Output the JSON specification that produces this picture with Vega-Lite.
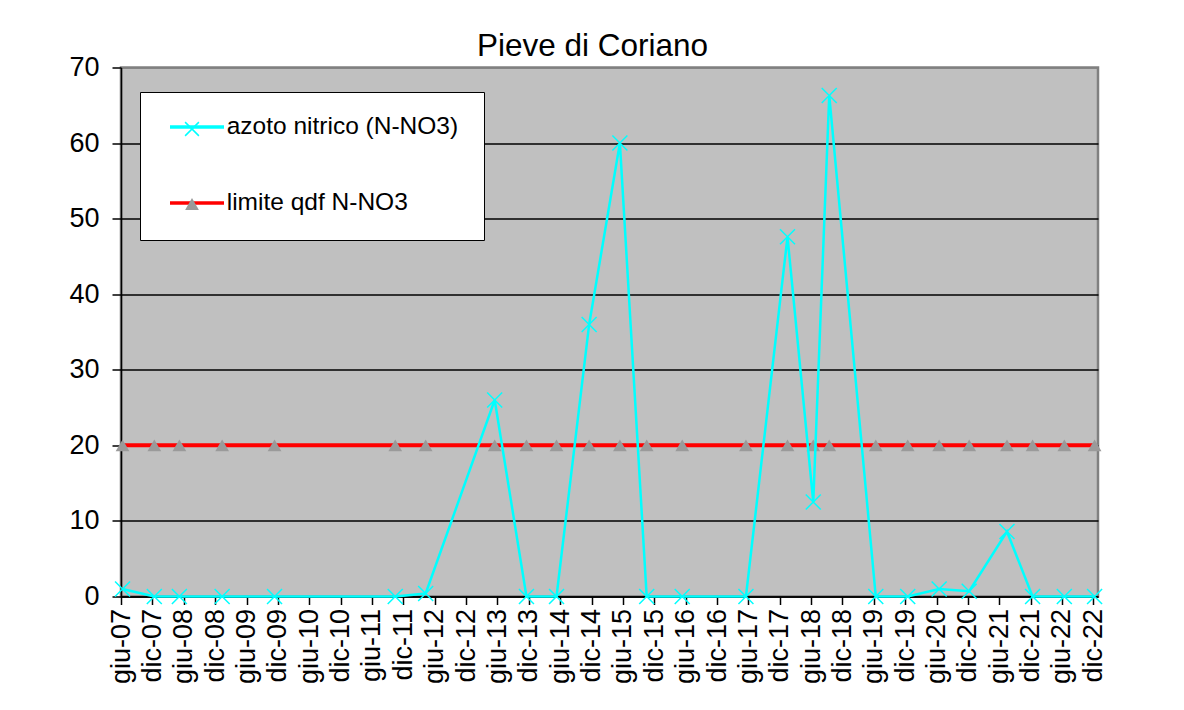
{
  "$schema": "https://vega.github.io/schema/vega-lite/v6.json",
  "autosize": {"type": "none"},
  "width": 977,
  "height": 529,
  "padding": {"left": 121, "top": 67.5, "right": 86, "bottom": 113.5},
  "background": "white",
  "title": {"text": "Pieve di Coriano", "fontSize": 31.5, "font": "Liberation Sans", "fontWeight": "normal", "color": "black", "anchor": "middle", "dx": -17, "dy": 18, "offset": 9},
  "config": {
    "font": "Liberation Sans",
    "view": {"fill": "#C0C0C0", "stroke": "#808080", "strokeWidth": 2.5}
  },
  "data": {"values": [
    {"date": "2007-06-10", "series": "azoto nitrico (N-NO3)", "value": 1.0},
    {"date": "2007-12-12", "series": "azoto nitrico (N-NO3)", "value": 0},
    {"date": "2008-05-06", "series": "azoto nitrico (N-NO3)", "value": 0},
    {"date": "2009-01-10", "series": "azoto nitrico (N-NO3)", "value": 0},
    {"date": "2009-11-11", "series": "azoto nitrico (N-NO3)", "value": 0},
    {"date": "2011-10-15", "series": "azoto nitrico (N-NO3)", "value": 0},
    {"date": "2012-04-09", "series": "azoto nitrico (N-NO3)", "value": 0.4},
    {"date": "2013-05-16", "series": "azoto nitrico (N-NO3)", "value": 26},
    {"date": "2013-11-17", "series": "azoto nitrico (N-NO3)", "value": 0},
    {"date": "2014-05-11", "series": "azoto nitrico (N-NO3)", "value": 0},
    {"date": "2014-11-17", "series": "azoto nitrico (N-NO3)", "value": 36},
    {"date": "2015-05-15", "series": "azoto nitrico (N-NO3)", "value": 60},
    {"date": "2015-10-18", "series": "azoto nitrico (N-NO3)", "value": 0},
    {"date": "2016-05-12", "series": "azoto nitrico (N-NO3)", "value": 0},
    {"date": "2017-05-18", "series": "azoto nitrico (N-NO3)", "value": 0},
    {"date": "2018-01-15", "series": "azoto nitrico (N-NO3)", "value": 47.6},
    {"date": "2018-06-14", "series": "azoto nitrico (N-NO3)", "value": 12.5},
    {"date": "2018-09-15", "series": "azoto nitrico (N-NO3)", "value": 66.3},
    {"date": "2019-06-13", "series": "azoto nitrico (N-NO3)", "value": 0},
    {"date": "2019-12-16", "series": "azoto nitrico (N-NO3)", "value": 0},
    {"date": "2020-06-16", "series": "azoto nitrico (N-NO3)", "value": 1.0},
    {"date": "2020-12-08", "series": "azoto nitrico (N-NO3)", "value": 0.7},
    {"date": "2021-07-16", "series": "azoto nitrico (N-NO3)", "value": 8.6},
    {"date": "2021-12-12", "series": "azoto nitrico (N-NO3)", "value": 0},
    {"date": "2022-06-15", "series": "azoto nitrico (N-NO3)", "value": 0},
    {"date": "2022-12-08", "series": "azoto nitrico (N-NO3)", "value": 0},
    {"date": "2007-06-10", "series": "limite qdf N-NO3", "value": 20},
    {"date": "2007-12-12", "series": "limite qdf N-NO3", "value": 20},
    {"date": "2008-05-06", "series": "limite qdf N-NO3", "value": 20},
    {"date": "2009-01-10", "series": "limite qdf N-NO3", "value": 20},
    {"date": "2009-11-11", "series": "limite qdf N-NO3", "value": 20},
    {"date": "2011-10-15", "series": "limite qdf N-NO3", "value": 20},
    {"date": "2012-04-09", "series": "limite qdf N-NO3", "value": 20},
    {"date": "2013-05-16", "series": "limite qdf N-NO3", "value": 20},
    {"date": "2013-11-17", "series": "limite qdf N-NO3", "value": 20},
    {"date": "2014-05-11", "series": "limite qdf N-NO3", "value": 20},
    {"date": "2014-11-17", "series": "limite qdf N-NO3", "value": 20},
    {"date": "2015-05-15", "series": "limite qdf N-NO3", "value": 20},
    {"date": "2015-10-18", "series": "limite qdf N-NO3", "value": 20},
    {"date": "2016-05-12", "series": "limite qdf N-NO3", "value": 20},
    {"date": "2017-05-18", "series": "limite qdf N-NO3", "value": 20},
    {"date": "2018-01-15", "series": "limite qdf N-NO3", "value": 20},
    {"date": "2018-06-14", "series": "limite qdf N-NO3", "value": 20},
    {"date": "2018-09-15", "series": "limite qdf N-NO3", "value": 20},
    {"date": "2019-06-13", "series": "limite qdf N-NO3", "value": 20},
    {"date": "2019-12-16", "series": "limite qdf N-NO3", "value": 20},
    {"date": "2020-06-16", "series": "limite qdf N-NO3", "value": 20},
    {"date": "2020-12-08", "series": "limite qdf N-NO3", "value": 20},
    {"date": "2021-07-16", "series": "limite qdf N-NO3", "value": 20},
    {"date": "2021-12-12", "series": "limite qdf N-NO3", "value": 20},
    {"date": "2022-06-15", "series": "limite qdf N-NO3", "value": 20},
    {"date": "2022-12-08", "series": "limite qdf N-NO3", "value": 20}
  ]},
  "encoding": {
    "x": {
      "field": "date", "type": "temporal",
      "scale": {"type": "utc", "domain": [{"year": 2007, "month": 6, "date": 1, "utc": true}, {"year": 2022, "month": 12, "date": 28, "utc": true}]},
      "axis": {
        "title": null, "grid": false,
        "values": [
          {"year": 2007, "month": 6, "date": 1, "utc": true}, {"year": 2007, "month": 12, "date": 1, "utc": true},
          {"year": 2008, "month": 6, "date": 1, "utc": true}, {"year": 2008, "month": 12, "date": 1, "utc": true},
          {"year": 2009, "month": 6, "date": 1, "utc": true}, {"year": 2009, "month": 12, "date": 1, "utc": true},
          {"year": 2010, "month": 6, "date": 1, "utc": true}, {"year": 2010, "month": 12, "date": 1, "utc": true},
          {"year": 2011, "month": 6, "date": 1, "utc": true}, {"year": 2011, "month": 12, "date": 1, "utc": true},
          {"year": 2012, "month": 6, "date": 1, "utc": true}, {"year": 2012, "month": 12, "date": 1, "utc": true},
          {"year": 2013, "month": 6, "date": 1, "utc": true}, {"year": 2013, "month": 12, "date": 1, "utc": true},
          {"year": 2014, "month": 6, "date": 1, "utc": true}, {"year": 2014, "month": 12, "date": 1, "utc": true},
          {"year": 2015, "month": 6, "date": 1, "utc": true}, {"year": 2015, "month": 12, "date": 1, "utc": true},
          {"year": 2016, "month": 6, "date": 1, "utc": true}, {"year": 2016, "month": 12, "date": 1, "utc": true},
          {"year": 2017, "month": 6, "date": 1, "utc": true}, {"year": 2017, "month": 12, "date": 1, "utc": true},
          {"year": 2018, "month": 6, "date": 1, "utc": true}, {"year": 2018, "month": 12, "date": 1, "utc": true},
          {"year": 2019, "month": 6, "date": 1, "utc": true}, {"year": 2019, "month": 12, "date": 1, "utc": true},
          {"year": 2020, "month": 6, "date": 1, "utc": true}, {"year": 2020, "month": 12, "date": 1, "utc": true},
          {"year": 2021, "month": 6, "date": 1, "utc": true}, {"year": 2021, "month": 12, "date": 1, "utc": true},
          {"year": 2022, "month": 6, "date": 1, "utc": true}, {"year": 2022, "month": 12, "date": 1, "utc": true}
        ],
        "labelExpr": "(utcmonth(datum.value) == 5 ? 'giu' : 'dic') + '-' + utcFormat(datum.value, '%y')",
        "labelAngle": 270, "labelAlign": "right", "labelBaseline": "middle",
        "labelFontSize": 27, "labelFont": "Liberation Sans", "labelColor": "black",
        "labelPadding": 4, "labelOverlap": false, "labelFlush": false, "labelBound": false,
        "tickSize": 8, "tickColor": "black", "tickWidth": 1.5,
        "domainColor": "black", "domainWidth": 1.5
      }
    },
    "y": {
      "field": "value", "type": "quantitative",
      "scale": {"domain": [0, 70], "nice": false, "zero": true},
      "axis": {
        "title": null, "values": [0, 10, 20, 30, 40, 50, 60, 70],
        "labelFontSize": 27, "labelFont": "Liberation Sans", "labelColor": "black",
        "labelPadding": 13, "tickSize": 9, "tickColor": "black", "tickWidth": 1.5,
        "domainColor": "black", "domainWidth": 1.5,
        "grid": true, "gridWidth": 1.5,
        "gridColor": {"condition": {"test": "datum.value == 70", "value": "#808080"}, "value": "black"}
      }
    }
  },
  "layer": [
    {
      "transform": [{"filter": "datum.series == 'limite qdf N-NO3'"}],
      "mark": {"type": "line", "strokeWidth": 4},
      "encoding": {
        "color": {"field": "series", "type": "nominal",
          "scale": {"domain": ["azoto nitrico (N-NO3)", "limite qdf N-NO3"], "range": ["#00FFFF", "#FF0000"]},
          "legend": {"orient": "none", "legendX": 19, "legendY": 24.5, "title": null, "fillColor": "white", "strokeColor": "black", "padding": 25,
            "symbolType": "stroke", "symbolSize": 2916, "symbolStrokeWidth": 3.5, "labelFontSize": 24.5, "labelFont": "Liberation Sans", "labelColor": "black", "labelOffset": 0.7, "clipHeight": 20, "rowPadding": 51, "symbolOffset": 3, "labelLimit": 400}}
      }
    },
    {
      "transform": [{"filter": "datum.series == 'limite qdf N-NO3'"}],
      "mark": {"type": "point", "filled": true, "size": 190, "strokeWidth": 1.5, "opacity": 1},
      "encoding": {
        "shape": {"field": "series", "type": "nominal", "scale": {"range": ["M-1,-1L1,1M-1,1L1,-1", "triangle-up"]},
          "legend": {"orient": "none", "legendX": 19, "legendY": 24.5, "title": null, "padding": 27, "symbolOffset": 17, "symbolSize": 190, "symbolStrokeWidth": 1.5, "labelExpr": "''", "clipHeight": 20, "rowPadding": 55}},
        "fill": {"field": "series", "type": "nominal", "scale": {"range": ["transparent", "#9a9a9a"]},
          "legend": {"orient": "none", "legendX": 19, "legendY": 24.5, "title": null, "padding": 27, "symbolOffset": 17, "symbolSize": 190, "symbolStrokeWidth": 1.5, "labelExpr": "''", "clipHeight": 20, "rowPadding": 55}},
        "stroke": {"field": "series", "type": "nominal", "scale": {"range": ["#00FFFF", "transparent"]},
          "legend": {"orient": "none", "legendX": 19, "legendY": 24.5, "title": null, "padding": 27, "symbolOffset": 17, "symbolSize": 190, "symbolStrokeWidth": 1.5, "labelExpr": "''", "clipHeight": 20, "rowPadding": 55}}
      }
    },
    {
      "transform": [{"filter": "datum.series == 'azoto nitrico (N-NO3)'"}],
      "mark": {"type": "line", "strokeWidth": 2.5},
      "encoding": {
        "color": {"field": "series", "type": "nominal",
          "scale": {"domain": ["azoto nitrico (N-NO3)", "limite qdf N-NO3"], "range": ["#00FFFF", "#FF0000"]}}
      }
    },
    {
      "transform": [{"filter": "datum.series == 'azoto nitrico (N-NO3)'"}],
      "mark": {"type": "point", "filled": true, "size": 225, "strokeWidth": 1.5, "opacity": 1},
      "encoding": {
        "shape": {"field": "series", "type": "nominal"},
        "fill": {"field": "series", "type": "nominal"},
        "stroke": {"field": "series", "type": "nominal"}
      }
    }
  ]
}
